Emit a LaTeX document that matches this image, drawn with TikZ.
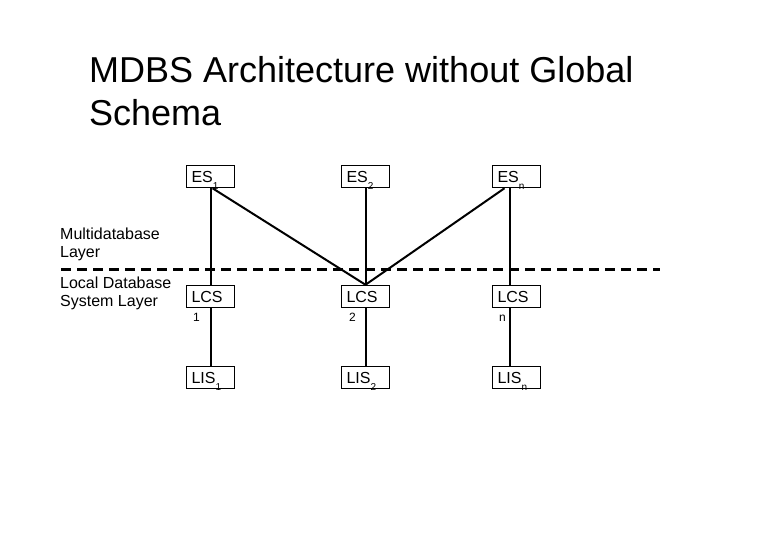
\documentclass[tikz,border=0pt]{standalone}
\usepackage{fontspec}
\setmainfont{Liberation Sans}
\newcommand{\lowsub}[1]{\raisebox{-7pt}{\fontsize{10}{10}\selectfont #1}}
\begin{document}
\begin{tikzpicture}[x=1pt,y=-1pt,
  box/.style={draw, line width=1.5pt, minimum width=48pt, minimum height=22pt,
    text width=38pt, align=left, inner xsep=5pt, inner ysep=0pt,
    text height=11.5pt, text depth=0pt, font=\fontsize{16}{18}\selectfont},
  link/.style={line width=2pt},
  layer/.style={line width=3pt, dash pattern=on 10pt off 6pt},
  lbl/.style={anchor=base west, inner sep=0pt, align=left, font=\fontsize{16}{18}\selectfont},
  idx/.style={anchor=base west, inner sep=0pt, font=\fontsize{12}{12}\selectfont}]
\useasboundingbox (0,0) rectangle (780,540);
\node[anchor=base west, inner sep=0pt, align=left, font=\fontsize{36}{43}\selectfont] (title) at (89,126)
  {MDBS Architecture without Global\\Schema};
\node[lbl] (mlayer) at (60,258) {Multidatabase\\Layer};
\node[lbl] (llayer) at (60,307) {Local Database\\System Layer};
\coordinate (dl) at (61,270);
\coordinate (dr) at (660,270);
\draw[layer] (dl) -- (dr);
\node[box] (es1) at (210.5,176.5) {ES\lowsub{1}};
\node[box] (es2) at (365.5,176.5) {ES\lowsub{2}};
\node[box] (esn) at (516.5,176.5) {ES\lowsub{n}};
\node[box] (lcs1) at (210.5,296.5) {LCS};
\node[box] (lcs2) at (365.5,296.5) {LCS};
\node[box] (lcsn) at (516.5,296.5) {LCS};
\node[box] (lis1) at (210.5,377.5) {LIS\lowsub{1}};
\node[box] (lis2) at (365.5,377.5) {LIS\lowsub{2}};
\node[box] (lisn) at (516.5,377.5) {LIS\lowsub{n}};
\node[idx] (n1) at (193,322) {1};
\node[idx] (n2) at (349,322) {2};
\node[idx] (nn) at (499,322) {n};
\draw[link] (es1.south) -- (lcs1.north);
\draw[link] (es2.south) -- (lcs2.north);
\draw[link] ([xshift=-6.5pt]esn.south) -- ([xshift=-6.5pt]lcsn.north);
\draw[link] ([xshift=2pt]es1.south) -- (lcs2.north);
\draw[link] ([xshift=-12pt]esn.south) -- (lcs2.north);
\draw[link] (lcs1.south) -- (lis1.north);
\draw[link] (lcs2.south) -- (lis2.north);
\draw[link] ([xshift=-6.5pt]lcsn.south) -- ([xshift=-6.5pt]lisn.north);
\end{tikzpicture}
\end{document}
